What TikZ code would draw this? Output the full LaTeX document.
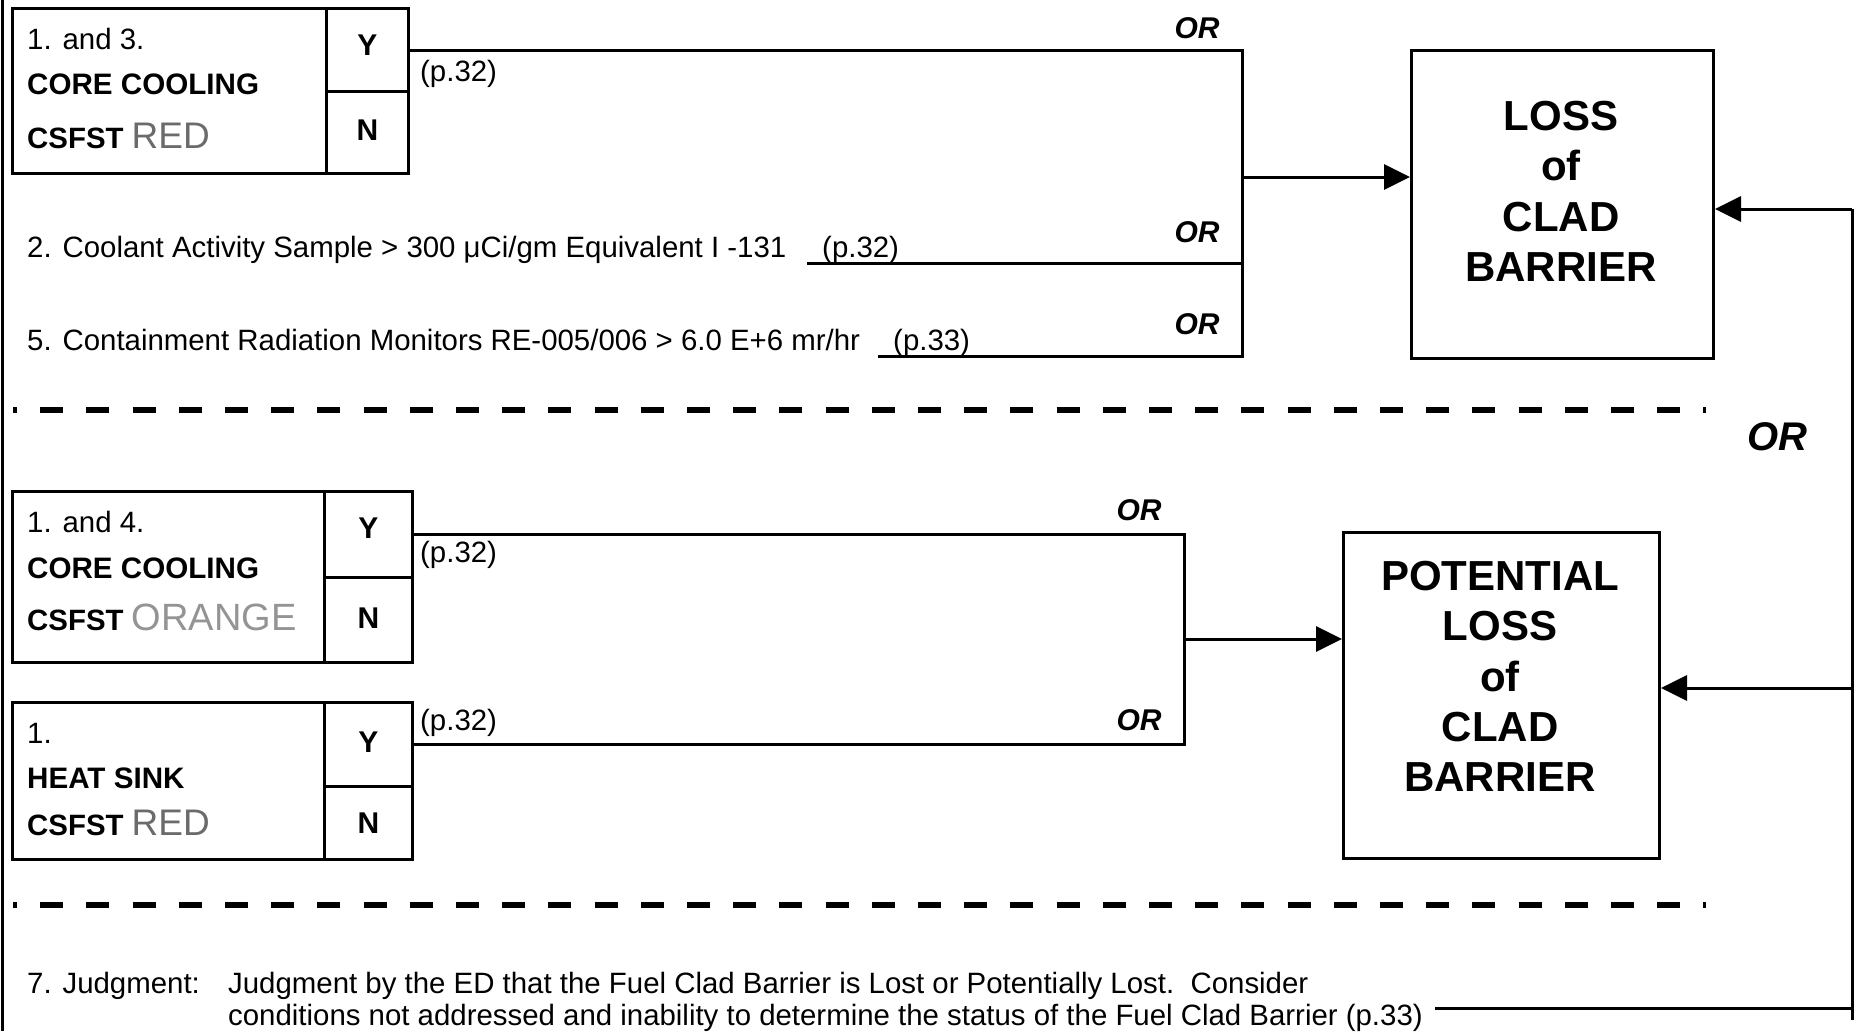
\documentclass[tikz,border=0pt]{standalone}
\usepackage{fontspec}
\setmainfont{Liberation Sans}
\usetikzlibrary{arrows.meta}
\definecolor{redgray}{gray}{0.42}
\definecolor{orangegray}{gray}{0.58}
\begin{document}
\begin{tikzpicture}[x=1pt,y=-1pt,
  ln/.style={line width=3pt},
  bx/.style={draw, line width=3pt, anchor=north west, inner sep=0pt},
  arr/.style={line width=3pt, -{Triangle[length=26pt,width=25pt]}},
  tx/.style={anchor=base west, inner sep=0pt, font=\fontsize{29.4}{34}\selectfont},
  btx/.style={anchor=base west, inner sep=0pt, font=\fontsize{29.6}{34}\selectfont\bfseries},
  yn/.style={font=\fontsize{30}{34}\selectfont\bfseries},
  orl/.style={inner sep=0pt, font=\fontsize{30}{34}\selectfont\bfseries\itshape},
  big/.style={anchor=north, inner sep=0pt, align=center, font=\fontsize{42}{50.3}\selectfont\bfseries},
  dsh/.style={line width=6pt, dash pattern=on 23pt off 23.2pt, dash phase=19pt}
]
\useasboundingbox (0,0) rectangle (1855,1031);
% left border
\coordinate (lbt) at (2,0); \coordinate (lbb) at (2,1031);
\draw[line width=3pt] (lbt) -- (lbb);

% ---------- top section ----------
\node[bx, minimum width=314pt, minimum height=165pt] (c1) at (11,7) {};
\node[bx, minimum width=82pt, minimum height=83pt] (c1y) at (325,7) {};
\node[bx, minimum width=82pt, minimum height=82pt] (c1n) at (325,90) {};
\node[yn] (c1yt) at ([yshift=5pt]c1y.center) {Y};
\node[yn] (c1nt) at ([yshift=2pt]c1n.center) {N};
\node[tx] (c1a) at (27,49) {1. and 3.};
\node[btx] (c1b) at (27,94) {CORE COOLING};
\node[tx] (c1c) at (27,148) {\textbf{CSFST} {\fontsize{37}{40}\selectfont\color{redgray}RED}};
\node[tx] (p1) at (420,81) {(p.32)};

\node[tx] (t2) at (27,257) {2. Coolant Activity Sample > 300 μCi/gm Equivalent I -131};
\node[tx] (p2) at (822,257) {(p.32)};
\node[tx] (t5) at (27,350) {5. Containment Radiation Monitors RE-005/006 > 6.0 E+6 mr/hr};
\node[tx] (p5) at (893,350) {(p.33)};

\coordinate (j1t) at (1242,48);
\coordinate (j1b) at (1242,356);
\coordinate (j1m) at (1242,177);
\coordinate (l2s) at (807,263);
\coordinate (l2e) at (1242,263);
\coordinate (l5s) at (878,356);

\node[bx, minimum width=302pt, minimum height=308pt] (loss) at (1410,49) {};
\node[big] (losst) at (1561,101) {LOSS\\of\\CLAD\\BARRIER};

\draw[ln] (c1y.east) -- (c1y.east -| j1t) -- (j1b) -- (l5s);
\draw[ln] (l2s) -- (l2e);
\draw[arr] (j1m) -- (j1m -| loss.west);

\node[orl] (or1) at (1197,28) {OR};
\node[orl] (or2) at (1197,232) {OR};
\node[orl] (or3) at (1197,324) {OR};

% dashed divider
\coordinate (d1s) at (13,410); \coordinate (d1e) at (1706,410);
\draw[dsh] (d1s) -- (d1e);

\node[orl, font=\fontsize{40}{44}\selectfont\bfseries\itshape] (orbig) at (1777,437) {OR};

% ---------- middle section ----------
\node[bx, minimum width=312pt, minimum height=171pt] (c4) at (11,490) {};
\node[bx, minimum width=88pt, minimum height=86pt] (c4y) at (323,490) {};
\node[bx, minimum width=88pt, minimum height=85pt] (c4n) at (323,576) {};
\node[yn] (c4yt) at ([yshift=6pt]c4y.center) {Y};
\node[yn] (c4nt) at ([yshift=2pt]c4n.center) {N};
\node[tx] (c4a) at (27,532) {1. and 4.};
\node[btx] (c4b) at (27,578) {CORE COOLING};
\node[tx] (c4c) at (27,630) {\textbf{CSFST} {\fontsize{38}{40}\selectfont\color{orangegray}ORANGE}};
\node[tx] (p4) at (420,562) {(p.32)};

\node[bx, minimum width=312pt, minimum height=157pt] (c5) at (11,701) {};
\node[bx, minimum width=88pt, minimum height=84pt] (c5y) at (323,701) {};
\node[bx, minimum width=88pt, minimum height=73pt] (c5n) at (323,785) {};
\node[yn] (c5yt) at ([yshift=2pt]c5y.center) {Y};
\node[yn] (c5nt) at (c5n.center) {N};
\node[tx] (c5a) at (27,743) {1.};
\node[btx] (c5b) at (27,788) {HEAT SINK};
\node[tx] (c5c) at (27,835) {\textbf{CSFST} {\fontsize{37}{40}\selectfont\color{redgray}RED}};
\node[tx] (p6) at (420,730) {(p.32)};

\coordinate (j2t) at (1184,533);
\coordinate (j2b) at (1184,743);
\coordinate (j2m) at (1184,639);

\node[bx, minimum width=316pt, minimum height=326pt] (pot) at (1342,531) {};
\node[big] (pott) at (1500,561) {POTENTIAL\\LOSS\\of\\CLAD\\BARRIER};

\draw[ln] (c4y.east) -- (c4y.east -| j2t) -- (j2b -| j2t) -- (c5y.east -| j2t) -- (c5y.east);
\draw[arr] (j2m) -- (j2m -| pot.west);

\node[orl] (or4) at (1139,510) {OR};
\node[orl] (or5) at (1139,720) {OR};

% dashed divider
\coordinate (d2s) at (13,905); \coordinate (d2e) at (1706,905);
\draw[dsh] (d2s) -- (d2e);

% ---------- bottom ----------
\node[tx] (t7a) at (27,993) {7. Judgment:};
\node[tx] (t7b) at (228,993) {Judgment by the ED that the Fuel Clad Barrier is Lost or Potentially Lost.\ \ Consider};
\node[tx] (t7c) at (228,1025) {conditions not addressed and inability to determine the status of the Fuel Clad Barrier (p.33)};

\coordinate (j7) at (1435,1008);
\coordinate (rb) at (1852,1008);
\coordinate (rbb) at (1852,1020);
\coordinate (rt) at (1852,209);
\coordinate (rm) at (1852,688);
\draw[ln] (j7) -- (rb);
\draw[ln] (rbb) -- (rt);
\draw[arr] (rt) -- (rt -| loss.east);
\draw[arr] (rm) -- (rm -| pot.east);
\end{tikzpicture}
\end{document}
